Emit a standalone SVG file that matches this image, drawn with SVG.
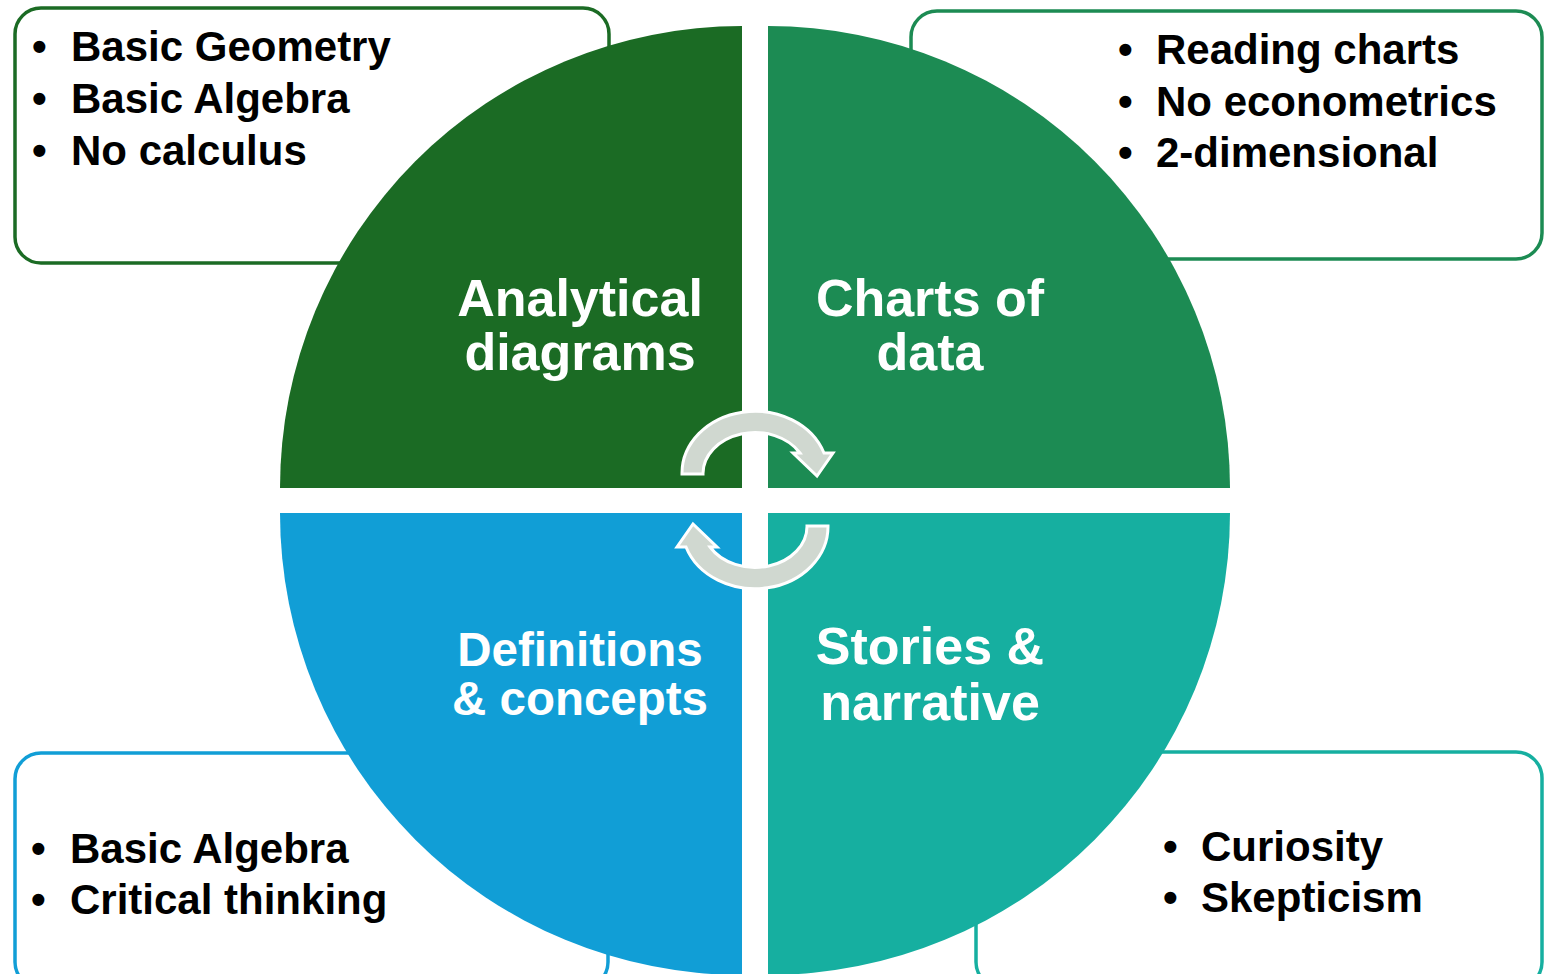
<svg xmlns="http://www.w3.org/2000/svg" width="1544" height="974" viewBox="0 0 1544 974">
<style>
.box{fill:#fff;stroke-width:3.5}
.bul{font-family:"Liberation Sans",Arial,sans-serif;font-weight:bold;font-size:42px;fill:#000}
.lab{font-family:"Liberation Sans",Arial,sans-serif;font-weight:bold;fill:#fff;text-anchor:middle}
.arr{fill:#D0D8D0;stroke:#fff;stroke-width:3;stroke-linejoin:miter}
</style>
<rect width="1544" height="974" fill="#fff"/>
<g id="box-tl"><rect class="box" x="15" y="8" width="594" height="255" rx="26" stroke="#1B6B24"/>
<text class="bul"><tspan x="32" y="61">•</tspan><tspan x="71" y="61">Basic Geometry</tspan><tspan x="32" y="113">•</tspan><tspan x="71" y="113">Basic Algebra</tspan><tspan x="32" y="165">•</tspan><tspan x="71" y="165">No calculus</tspan></text></g>
<g id="box-tr"><rect class="box" x="911" y="11" width="631" height="248" rx="26" stroke="#1C8B53"/>
<text class="bul"><tspan x="1118" y="64">•</tspan><tspan x="1156" y="64">Reading charts</tspan><tspan x="1118" y="116">•</tspan><tspan x="1156" y="116">No econometrics</tspan><tspan x="1118" y="167">•</tspan><tspan x="1156" y="167">2-dimensional</tspan></text></g>
<g id="box-bl"><rect class="box" x="15" y="753" width="593" height="235" rx="26" stroke="#119ED6"/>
<text class="bul"><tspan x="31" y="863">•</tspan><tspan x="70" y="863">Basic Algebra</tspan><tspan x="31" y="914">•</tspan><tspan x="70" y="914">Critical thinking</tspan></text></g>
<g id="box-br"><rect class="box" x="976" y="752" width="566" height="236" rx="26" stroke="#16AFA0"/>
<text class="bul"><tspan x="1163" y="861">•</tspan><tspan x="1201" y="861">Curiosity</tspan><tspan x="1163" y="912">•</tspan><tspan x="1201" y="912">Skepticism</tspan></text></g>
<g id="q-tl"><path d="M742 488 L280 488 A462 462 0 0 1 742 26 Z" fill="#1B6B24"/>
<text class="lab" font-size="52" x="580"><tspan x="580" y="316">Analytical</tspan><tspan x="580" y="370">diagrams</tspan></text></g>
<g id="q-tr"><path d="M768 488 L768 26 A462 462 0 0 1 1230 488 Z" fill="#1C8B53"/>
<text class="lab" font-size="52"><tspan x="930" y="316">Charts of</tspan><tspan x="930" y="370">data</tspan></text></g>
<g id="q-bl"><path d="M742 513 L280 513 A462 462 0 0 0 742 975 Z" fill="#119ED6"/>
<text class="lab" font-size="47.5"><tspan x="580" y="666">Definitions</tspan><tspan x="580" y="715">&amp; concepts</tspan></text></g>
<g id="q-br"><path d="M768 513 L1230 513 A462 462 0 0 1 768 975 Z" fill="#16AFA0"/>
<text class="lab" font-size="52"><tspan x="930" y="664">Stories &amp;</tspan><tspan x="930" y="720">narrative</tspan></text></g>
<g id="connectors">
<path id="arrow-top" class="arr" d="M682 474 A73 62 0 0 1 824 453 L833 453 L817 476 L793 453 L800 453 A52 41 0 0 0 703 474 Z"/>
<path id="arrow-bottom" class="arr" transform="rotate(180 755 500)" d="M682 474 A73 62 0 0 1 824 453 L833 453 L817 476 L793 453 L800 453 A52 41 0 0 0 703 474 Z"/>
</g>
</svg>
